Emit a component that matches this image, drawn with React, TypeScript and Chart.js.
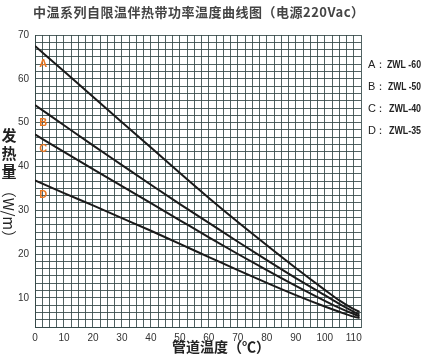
import React, { useEffect, useRef } from "react";
import { Chart, registerables } from "chart.js";

Chart.register(...registerables);

const title = "中温系列自限温伴热带功率温度曲线图（电源220Vac）";
const xTitle = "管道温度（℃）";
const yTitleStack = ["发", "热", "量"];
const yTitleRot = "（W/m）";
const temps = [0, 10, 20, 30, 40, 50, 60, 70, 80, 90, 100, 105, 110, 112];
const seriesA = [67.5, 61.7, 55.9, 50.1, 44.3, 38.5, 32.8, 27.3, 22.0, 16.8, 11.8, 9.4, 7.4, 6.8];
const seriesB = [54.0, 49.4, 44.8, 40.3, 35.8, 31.4, 27.1, 22.8, 18.6, 14.5, 10.6, 8.6, 6.8, 6.2];
const seriesC = [47.3, 43.3, 39.4, 35.5, 31.6, 27.7, 23.8, 20.0, 16.3, 12.7, 9.3, 7.7, 6.3, 5.8];
const seriesD = [36.8, 33.9, 31.1, 28.2, 25.3, 22.3, 19.3, 16.3, 13.4, 10.6, 8.0, 6.8, 5.7, 5.4];
const curveLetters = ["A", "B", "C", "D"];
const letterValues = [63.4, 49.9, 43.9, 33.4];
const legendNames = ["ZWL -60", "ZWL -50", "ZWL-40", "ZWL-35"];
const xMin = 0;
const xMax = 112.5;
const xStep = 2.5;
const yMin = 10 / 3;
const yMax = 70;
const yStep = 10 / 6;

export default function App() {
  const ref = useRef<HTMLCanvasElement>(null);
  useEffect(() => {
    const canvas = ref.current!;
    const mk = (vals: number[]) => temps.map((t, i) => ({ x: t, y: vals[i] }));
    const gridColor = "rgba(50,70,70,0.85)";
    const textPlugin = {
      id: "texts",
      beforeDraw(chart: any) {
        const c = chart.ctx;
        c.save();
        c.fillStyle = "#ffffff";
        c.fillRect(0, 0, chart.width, chart.height);
        c.restore();
      },
      afterDraw(chart: any) {
        const c = chart.ctx;
        const xs = chart.scales.x;
        const ys = chart.scales.y;
        c.save();
        c.fillStyle = "#444";
        c.font = "bold 13px 'Noto Sans CJK SC'";
        c.textAlign = "left";
        c.textBaseline = "middle";
        c.letterSpacing = "0.5px";
        c.fillText(title, 33, 12);
        c.letterSpacing = "0px";
        c.font = "bold 14px 'Noto Sans CJK SC'";
        c.textAlign = "center";
        c.fillStyle = "#222";
        c.fillText(xTitle, 221, 347);
        c.font = "bold 15px 'Noto Sans CJK SC'";
        yTitleStack.forEach((ch, i) => c.fillText(ch, 9, 135 + i * 18));
        c.save();
        c.translate(9, 214);
        c.rotate(Math.PI / 2);
        c.font = "15px 'Noto Sans CJK SC'";
        c.fillText(yTitleRot, 0, 0);
        c.restore();
        c.fillStyle = "#e87722";
        c.font = "bold 11px 'Liberation Sans'";
        curveLetters.forEach((l, i) => c.fillText(l, xs.getPixelForValue(2.8), ys.getPixelForValue(letterValues[i])));
        c.fillStyle = "#222";
        c.textAlign = "left";
        const ly = [65, 87, 109, 131];
        curveLetters.forEach((l, i) => {
          c.font = "11px 'Liberation Sans'";
          c.fillText(l, 368, ly[i]);
          c.fillText("：", 375, ly[i]);
          c.font = "bold 11px 'Liberation Sans'";
          const x0 = 387 + (i > 0 ? 1 : 0) + (i > 1 ? 1 : 0);
          c.fillText(legendNames[i], x0, ly[i], 421 - x0);
        });
        c.restore();
      },
    };
    const ds = (vals: number[]) => ({
      data: mk(vals),
      borderColor: "#1a1a1a",
      borderWidth: 2,
      pointRadius: 0,
      fill: false,
      cubicInterpolationMode: "monotone" as const,
    });
    const tickLabel = (v: any) => {
      const n = Number(v);
      return Math.abs(n / 10 - Math.round(n / 10)) < 1e-6 ? String(Math.round(n)) : "";
    };
    const chart = new Chart(canvas, {
      type: "line",
      data: { datasets: [ds(seriesA), ds(seriesB), ds(seriesC), ds(seriesD)] },
      options: {
        animation: false,
        responsive: false,
        devicePixelRatio: 1,
        layout: { padding: { top: 35, right: 65, left: 0, bottom: 0 } },
        plugins: { legend: { display: false }, tooltip: { enabled: false } },
        scales: {
          x: {
            type: "linear",
            min: xMin,
            max: xMax,
            afterBuildTicks(scale: any) {
              const t = [];
              for (let v = xMin; v <= xMax + 1e-6; v += xStep) t.push({ value: v });
              scale.ticks = t;
            },
            afterFit(scale: any) {
              scale.height = 30;
            },
            grid: { color: gridColor, lineWidth: 1, drawTicks: false },
            border: { color: gridColor },
            ticks: {
              autoSkip: false,
              maxRotation: 0,
              padding: 5,
              color: "#333",
              font: { family: "'Liberation Sans'", size: 10 },
              callback: tickLabel,
            },
          },
          y: {
            type: "linear",
            min: yMin,
            max: yMax,
            afterBuildTicks(scale: any) {
              const t = [];
              for (let k = 0; k <= 40; k++) t.push({ value: yMin + k * yStep });
              scale.ticks = t;
            },
            afterFit(scale: any) {
              scale.width = 35;
            },
            grid: { color: gridColor, lineWidth: 1, drawTicks: false },
            border: { color: gridColor },
            ticks: {
              autoSkip: false,
              padding: 6,
              color: "#333",
              font: { family: "'Liberation Sans'", size: 10 },
              callback: tickLabel,
            },
          },
        },
      },
      plugins: [textPlugin],
    });
    return () => chart.destroy();
  }, []);
  return (
    <div style={{ position: "absolute", left: 0, top: 0, width: 426, height: 357 }}>
      <canvas ref={ref} width={426} height={357} style={{ display: "block" }} />
    </div>
  );
}
